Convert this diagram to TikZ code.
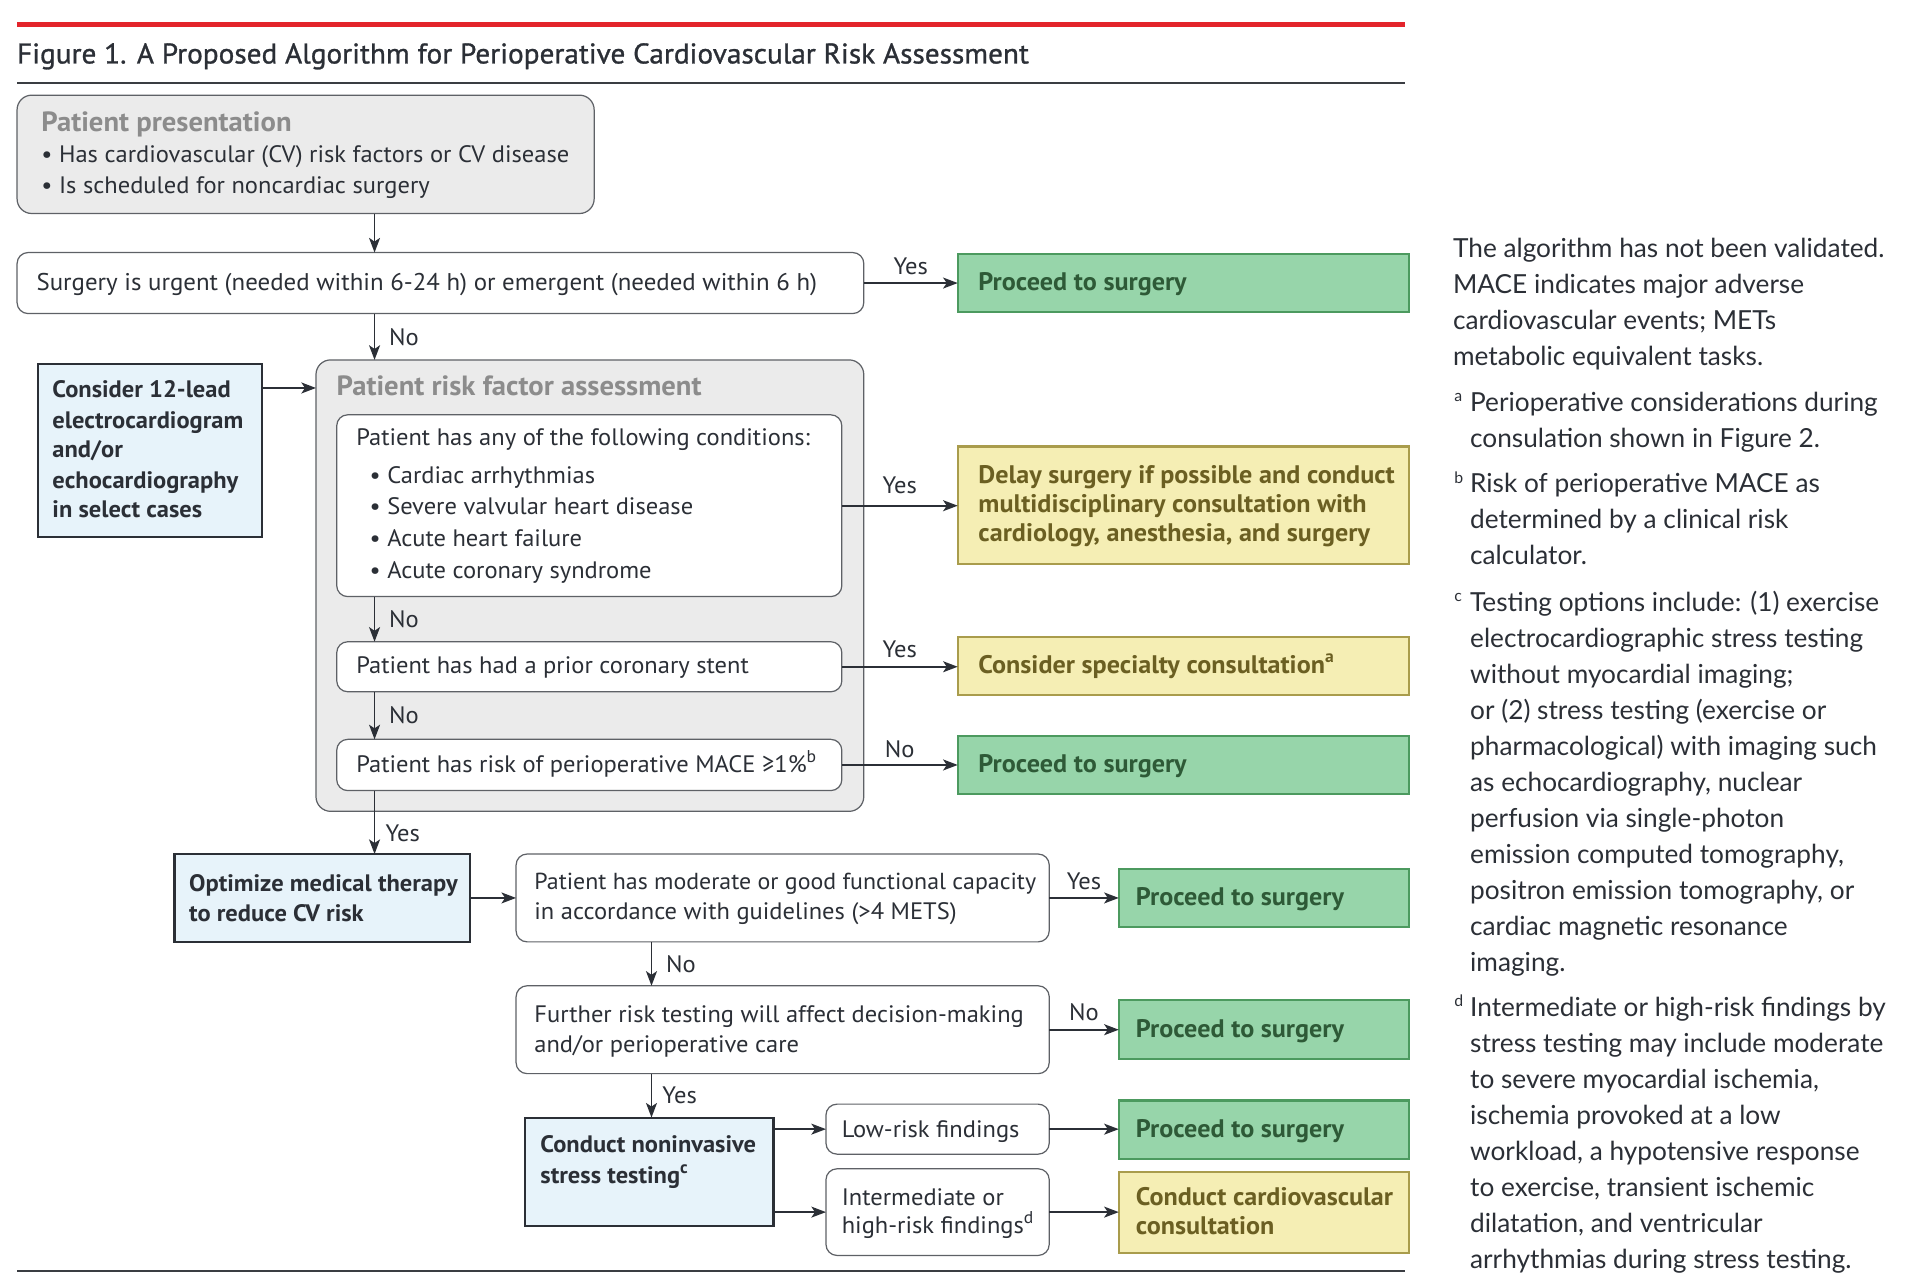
\documentclass[tikz,border=0pt]{standalone}
\usepackage{fontspec}
\setmainfont{PT Sans}
\newfontfamily\boxfont[FakeStretch=1.03]{PT Sans}
\newfontfamily\titlefont[FakeStretch=1.03, FakeBold=1]{PT Sans}
\newfontfamily\notefont{Lato}
\usetikzlibrary{arrows.meta}

\definecolor{ink}{HTML}{2B2F36}
\definecolor{rulered}{HTML}{E3242B}
\definecolor{rulegray}{HTML}{3A3D42}
\definecolor{frame}{HTML}{5E6166}
\definecolor{panel}{HTML}{EBEBEB}
\definecolor{headgray}{HTML}{8C8C8C}
\definecolor{iceblue}{HTML}{E7F3FA}
\definecolor{gofill}{HTML}{97D5AA}
\definecolor{goline}{HTML}{4C9A5F}
\definecolor{gotext}{HTML}{2E5A37}
\definecolor{waitfill}{HTML}{F5EEB4}
\definecolor{waitline}{HTML}{A99C4C}
\definecolor{waittext}{HTML}{6B5F22}

% box from (x1,y1) to (x2,y2), y measured downwards
\newcommand\panelbox[6]{%
  \node[#2, anchor=north west, minimum width={(#5)-(#3)}, minimum height={(#6)-(#4)}] (#1) at (#3,#4) {};}
% footnote mark inside box text
\newcommand\fnmark[1]{\raisebox{0.42em}{\fontsize{14}{14}\selectfont #1}}

\begin{document}
\begin{tikzpicture}[x=1pt, y=-1pt,
  every node/.style={inner sep=0pt, outer sep=0pt},
  flow/.style={draw=frame, line width=1pt, rounded corners=9pt, fill=white},
  group/.style={draw=frame, line width=1pt, rounded corners=12pt, fill=panel},
  infobox/.style={draw=ink, line width=1.7pt, fill=iceblue},
  gobox/.style={draw=goline, line width=1.7pt, fill=gofill},
  waitbox/.style={draw=waitline, line width=1.7pt, fill=waitfill},
  tx/.style={anchor=base west, text=ink, font=\boxfont\fontsize{19.5}{24}\selectfont},
  txb/.style={anchor=base west, text=ink, font=\boxfont\bfseries\fontsize{19.5}{24}\selectfont},
  gotx/.style={anchor=base west, text=gotext, font=\boxfont\bfseries\fontsize{20.8}{24}\selectfont},
  waittx/.style={gotx, text=waittext},
  head/.style={anchor=base west, text=headgray, font=\boxfont\bfseries\fontsize{22.8}{26}\selectfont},
  lab/.style={text=ink, font=\boxfont\fontsize{19.5}{24}\selectfont},
  arr/.style={draw=ink, line width=1.4pt, -{Stealth[length=12pt, width=9pt, inset=3pt]}},
  note/.style={anchor=base west, text=ink, font=\notefont\fontsize{21.5}{29.5}\selectfont},
  notesup/.style={anchor=base west, text=ink, font=\notefont\fontsize{13}{13}\selectfont},
]
\useasboundingbox (0,0) rectangle (1568,1052);

% heading rules and title
\draw[rulered, line width=4pt] (14,20) -- (1152,20);
\node[anchor=base west, text=ink, font=\titlefont\fontsize{23.3}{26}\selectfont] (title) at (14,52)
  {Figure 1. A Proposed Algorithm for Perioperative Cardiovascular Risk Assessment};
\draw[rulegray, line width=1.5pt] (14,68) -- (1152,68);
\draw[rulegray, line width=1.5pt] (14,1042) -- (1152,1042);

% ---------- boxes ----------
\panelbox{P}{group}{14}{78}{487}{175}
\panelbox{S}{flow}{14}{207}{708}{257}
\panelbox{G1}{gobox}{785}{208}{1155}{256}
\panelbox{L}{infobox}{31}{298}{215}{440}
\panelbox{R}{group}{259}{295}{708}{665}
\panelbox{C1}{flow}{276}{340}{690}{489}
\panelbox{Y1}{waitbox}{785}{366}{1155}{462}
\panelbox{C2}{flow}{276}{526}{690}{567}
\panelbox{Y2}{waitbox}{785}{522}{1155}{570}
\panelbox{C3}{flow}{276}{606}{690}{648}
\panelbox{G2}{gobox}{785}{603}{1155}{651}
\panelbox{O}{infobox}{143}{700}{385}{772}
\panelbox{F1}{flow}{423}{700}{860}{772}
\panelbox{G3}{gobox}{917}{712}{1155}{760}
\panelbox{F2}{flow}{423}{808}{860}{880}
\panelbox{G4}{gobox}{917}{820}{1155}{868}
\panelbox{T}{infobox}{430}{916}{634}{1005}
\panelbox{Lo}{flow}{677}{905}{860}{946}
\panelbox{G5}{gobox}{917}{902}{1155}{950}
\panelbox{Hi}{flow}{677}{958}{860}{1029}
\panelbox{Y3}{waitbox}{917}{961}{1155}{1027}

% ---------- box texts ----------
\node[head] (Pt0) at (34,108) {Patient presentation};
\node[tx] (Pt1) at (34,133) {• Has cardiovascular (CV) risk factors or CV disease};
\node[tx] (Pt2) at (34,159) {• Is scheduled for noncardiac surgery};

\node[tx, font=\boxfont\fontsize{19.8}{24}\selectfont] (St) at (30,238) {Surgery is urgent (needed within 6-24 h) or emergent (needed within 6 h)};

\node[txb] (Lt1) at (43,326) {Consider 12-lead};
\node[txb] (Lt2) at (43,351) {electrocardiogram};
\node[txb] (Lt3) at (43,375) {and/or};
\node[txb] (Lt4) at (43,400) {echocardiography};
\node[txb] (Lt5) at (43,424) {in select cases};

\node[head] (Rt) at (276,324) {Patient risk factor assessment};
\node[tx] (C1t0) at (292,365) {Patient has any of the following conditions:};
\node[tx] (C1t1) at (303,396) {• Cardiac arrhythmias};
\node[tx] (C1t2) at (303,422) {• Severe valvular heart disease};
\node[tx] (C1t3) at (303,448) {• Acute heart failure};
\node[tx] (C1t4) at (303,474) {• Acute coronary syndrome};
\node[tx] (C2t) at (292,552) {Patient has had a prior coronary stent};
\node[tx] (C3t) at (292,633) {Patient has risk of perioperative MACE ≥1\%\fnmark{b}};

\node[gotx] (G1t) at (802,238) {Proceed to surgery};
\node[waittx] (Y1t1) at (802,396) {Delay surgery if possible and conduct};
\node[waittx] (Y1t2) at (802,420) {multidisciplinary consultation with};
\node[waittx] (Y1t3) at (802,444) {cardiology, anesthesia, and surgery};
\node[waittx] (Y2t) at (802,552) {Consider specialty consultation\fnmark{a}};
\node[gotx] (G2t) at (802,633) {Proceed to surgery};

\node[txb] (Ot1) at (155,731) {Optimize medical therapy};
\node[txb] (Ot2) at (155,755) {to reduce CV risk};
\node[tx, font=\boxfont\fontsize{19}{24}\selectfont] (F1t1) at (438,729) {Patient has moderate or good functional capacity};
\node[tx] (F1t2) at (438,754) {in accordance with guidelines (>4 METS)};
\node[gotx] (G3t) at (931,742) {Proceed to surgery};
\node[tx] (F2t1) at (438,838) {Further risk testing will affect decision-making};
\node[tx] (F2t2) at (438,863) {and/or perioperative care};
\node[gotx] (G4t) at (931,850) {Proceed to surgery};
\node[txb] (Tt1) at (443,945) {Conduct noninvasive};
\node[txb] (Tt2) at (443,970) {stress testing\fnmark{c}};
\node[tx] (Lot) at (690,932) {Low-risk findings};
\node[gotx] (G5t) at (931,932) {Proceed to surgery};
\node[tx] (Hit1) at (690,988) {Intermediate or};
\node[tx] (Hit2) at (690,1011) {high-risk findings\fnmark{d}};
\node[waittx] (Y3t1) at (931,988) {Conduct cardiovascular};
\node[waittx] (Y3t2) at (931,1012) {consultation};

% ---------- connectors ----------
\coordinate (xmain) at (307,0);
\coordinate (xlow) at (534,0);
\coordinate (yecg) at (0,318);

\draw[arr] (P.south -| xmain) -- (S.north -| xmain);
\draw[arr] (S.east) -- node[lab, above=7pt] (yS) {Yes} (S.east -| G1.west);
\draw[arr] (S.south -| xmain) -- node[lab, anchor=west, xshift=12pt] (nS) {No} (R.north -| xmain);
\draw[arr] (L.east |- yecg) -- (R.west |- yecg);
\draw[arr] (C1.east) -- node[lab, above=10pt] (yC1) {Yes} (C1.east -| Y1.west);
\draw[arr] (C1.south -| xmain) -- node[lab, anchor=west, xshift=12pt] (nC1) {No} (C2.north -| xmain);
\draw[arr] (C2.east) -- node[lab, above=7pt] (yC2) {Yes} (C2.east -| Y2.west);
\draw[arr] (C2.south -| xmain) -- node[lab, anchor=west, xshift=12pt] (nC2) {No} (C3.north -| xmain);
\draw[arr] (C3.east) -- node[lab, above=6pt] (nC3) {No} (C3.east -| G2.west);
\draw[arr] (C3.south -| xmain) -- node[lab, pos=.68, anchor=west, xshift=9pt] (yC3) {Yes} (O.north -| xmain);
\draw[arr] (O.east) -- (O.east -| F1.west);
\draw[arr] (F1.east) -- node[lab, above=7pt] (yF1) {Yes} (F1.east -| G3.west);
\draw[arr] (F1.south -| xlow) -- node[lab, anchor=west, xshift=12pt] (nF1) {No} (F2.north -| xlow);
\draw[arr] (F2.east) -- node[lab, above=7pt] (nF2) {No} (F2.east -| G4.west);
\draw[arr] (F2.south -| xlow) -- node[lab, anchor=west, xshift=9pt] (yF2) {Yes} (T.north -| xlow);
\draw[arr] (T.east |- Lo.west) -- (Lo.west);
\draw[arr] (T.east |- Hi.west) -- (Hi.west);
\draw[arr] (Lo.east) -- (Lo.east -| G5.west);
\draw[arr] (Hi.east) -- (Hi.east -| Y3.west);

% ---------- notes ----------
\foreach \yb/\ltx [count=\k] in {
  211/{The algorithm has not been validated.},
  240.5/{MACE indicates major adverse},
  270/{cardiovascular events; METs},
  299.5/{metabolic equivalent tasks.}}
  \node[note] (n0-\k) at (1191,\yb) {\ltx};

\node[notesup] (sa) at (1192,329) {a};
\foreach \yb/\ltx [count=\k] in {
  337/{Perioperative considerations during},
  366.5/{consulation shown in Figure 2.}}
  \node[note] (na-\k) at (1205,\yb) {\ltx};

\node[notesup] (sb) at (1192,396) {b};
\foreach \yb/\ltx [count=\k] in {
  404/{Risk of perioperative MACE as},
  433.5/{determined by a clinical risk},
  463/{calculator.}}
  \node[note] (nb-\k) at (1205,\yb) {\ltx};

\node[notesup] (sc) at (1192,493) {c};
\foreach \yb/\ltx [count=\k] in {
  501/{Testing options include: (1) exercise},
  530.5/{electrocardiographic stress testing},
  560/{without myocardial imaging;},
  589.5/{or (2) stress testing (exercise or},
  619/{pharmacological) with imaging such},
  648.5/{as echocardiography, nuclear},
  678/{perfusion via single-photon},
  707.5/{emission computed tomography,},
  737/{positron emission tomography, or},
  766.5/{cardiac magnetic resonance},
  796/{imaging.}}
  \node[note] (nc-\k) at (1205,\yb) {\ltx};

\node[notesup] (sd) at (1192,825) {d};
\foreach \yb/\ltx [count=\k] in {
  833/{Intermediate or high-risk findings by},
  862.5/{stress testing may include moderate},
  892/{to severe myocardial ischemia,},
  921.5/{ischemia provoked at a low},
  951/{workload, a hypotensive response},
  980.5/{to exercise, transient ischemic},
  1010/{dilatation, and ventricular},
  1039.5/{arrhythmias during stress testing.}}
  \node[note] (nd-\k) at (1205,\yb) {\ltx};
\end{tikzpicture}
\end{document}
